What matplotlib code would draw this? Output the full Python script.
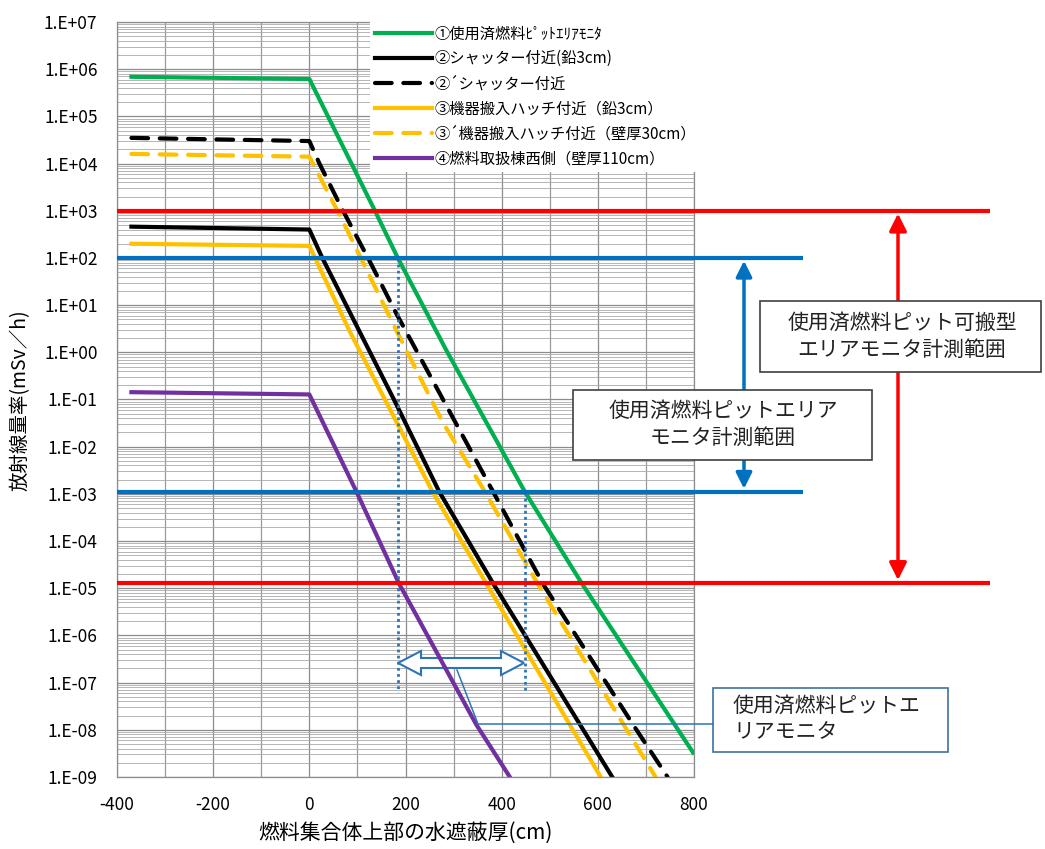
import numpy as np
import matplotlib
matplotlib.use('Agg')
import matplotlib.pyplot as plt
from matplotlib import transforms as mtransforms, patches as mpatches, ticker
from matplotlib.lines import Line2D

plt.rcParams['font.family'] = ['Noto Sans CJK JP', 'DejaVu Sans']
plt.rcParams['axes.unicode_minus'] = False

# ---------------- data ----------------
labels = ['①使用済燃料ﾋﾟｯﾄｴﾘｱﾓﾆﾀ', '②シャッター付近(鉛3cm)', '②´シャッター付近',
          '③機器搬入ハッチ付近（鉛3cm）', '③´機器搬入ハッチ付近（壁厚30cm）',
          '④燃料取扱棟西側（壁厚110cm）']

x1 = [-370, 0, 135, 184, 285, 448, 566, 798]
y1 = [6.9e5, 6.2e5, 1.07e3, 1.0e2, 1.1e0, 1.12e-3, 1.3e-5, 3.3e-9]

x2 = [-370, 0, 27, 177, 270, 383, 630]
y2 = [4.6e2, 4.0e2, 1.0e2, 9.5e-2, 1.12e-3, 1.23e-5, 1.0e-9]

x2d = [-370, 0, 21, 66, 128, 181, 382, 486, 673, 745]
y2d = [3.5e4, 3.0e4, 1.0e4, 1.2e3, 7.6e1, 6.6e0, 1.12e-3, 1.23e-5, 1.3e-8, 1.0e-9]

x3 = [-370, 0, 83, 256, 368, 606]
y3 = [2.0e2, 1.8e2, 2.9e0, 1.12e-3, 1.26e-5, 1.0e-9]

x3d = [-370, 0, 66, 181, 278, 365, 472, 720]
y3d = [1.6e4, 1.4e4, 7.1e2, 2.9e0, 3.2e-2, 1.12e-3, 1.4e-5, 1.0e-9]

x4 = [-370, 0, 97, 187, 347, 417]
y4 = [1.43e-1, 1.28e-1, 1.17e-3, 1.23e-5, 1.3e-8, 1.0e-9]

# measurement ranges
portable_range = [1.3e-5, 1.0e3]     # red
area_range = [1.12e-3, 1.0e2]        # blue
dotted_bottom = [6.3e-8, 6.9e-8]

xticks = [-400, -200, 0, 200, 400, 600, 800]

# ---------------- styles ----------------
GREEN = '#00B050'
YELLOW = '#FFC000'
PURPLE = '#7030A0'
RED = '#FF0000'
BLUE = '#0070C0'
LBLUE = '#2E75B6'
LW = 3.0
DASH = (4.0, 2.8)

W, H = 1045, 849
fig = plt.figure(figsize=(W / 100, H / 100), dpi=100)
L, R, T, B = 117, 694, 22, 777
ax = fig.add_axes([L / W, 1 - B / H, (R - L) / W, (B - T) / H])
PX = mtransforms.Affine2D().scale(1 / W, -1 / H).translate(0, 1) + fig.transFigure

ax.set_yscale('log')
ax.set_xlim(-400, 800)
ax.set_ylim(1e-9, 1e7)

ax.set_xticks(xticks)
ax.xaxis.set_minor_locator(ticker.MultipleLocator(100))
ax.yaxis.set_major_locator(ticker.FixedLocator([10.0 ** e for e in range(-9, 8)]))
ax.yaxis.set_minor_locator(ticker.FixedLocator(
    [m * 10.0 ** e for e in range(-9, 7) for m in range(2, 10)]))
ax.yaxis.set_major_formatter(ticker.FuncFormatter(
    lambda v, p: '1.E%+03d' % int(round(np.log10(v)))))
ax.yaxis.set_minor_formatter(ticker.NullFormatter())

ax.grid(which='major', axis='both', color='#8c8c8c', lw=0.9, zorder=0)
ax.grid(which='minor', axis='x', color='#9a9a9a', lw=0.9, zorder=0)
ax.grid(which='minor', axis='y', color='#aaaaaa', lw=0.6, zorder=0)
ax.set_axisbelow(True)
ax.tick_params(axis='both', which='both', length=0, pad=14, labelsize=12.5)
for s in ax.spines.values():
    s.set_color('#8c8c8c')
    s.set_linewidth(0.9)

h1, = ax.plot(x1, y1, color=GREEN, lw=LW, label=labels[0], zorder=2, solid_joinstyle='round')
h2, = ax.plot(x2, y2, color='black', lw=LW, label=labels[1], zorder=2, solid_joinstyle='round')
h2d, = ax.plot(x2d, y2d, color='black', lw=LW, ls=(0, DASH), label=labels[2], zorder=2,
               dash_capstyle='round')
h3, = ax.plot(x3, y3, color=YELLOW, lw=LW, label=labels[3], zorder=2, solid_joinstyle='round')
h3d, = ax.plot(x3d, y3d, color=YELLOW, lw=LW, ls=(0, DASH), label=labels[4], zorder=2,
               dash_capstyle='round')
h4, = ax.plot(x4, y4, color=PURPLE, lw=LW, label=labels[5], zorder=2, solid_joinstyle='round')

# horizontal range lines extending beyond the axes
red_end = (990 - L) / (R - L) * 1200 - 400
blue_end = (803 - L) / (R - L) * 1200 - 400
for v in portable_range:
    ax.plot([-400, red_end], [v, v], color=RED, lw=LW, clip_on=False, zorder=3,
            solid_capstyle='butt')
for v in area_range:
    ax.plot([-400, blue_end], [v, v], color=BLUE, lw=LW, clip_on=False, zorder=3,
            solid_capstyle='butt')

red_arrow_x = (898 - L) / (R - L) * 1200 - 400
blue_arrow_x = (744 - L) / (R - L) * 1200 - 400
ax.annotate('', xy=(red_arrow_x, portable_range[1]), xytext=(red_arrow_x, portable_range[0]),
            arrowprops=dict(arrowstyle='<|-|>', color=RED, lw=2.5, mutation_scale=26,
                            shrinkA=2, shrinkB=2), annotation_clip=False, zorder=3)
ax.annotate('', xy=(blue_arrow_x, area_range[1]), xytext=(blue_arrow_x, area_range[0]),
            arrowprops=dict(arrowstyle='<|-|>', color=BLUE, lw=2.5, mutation_scale=24,
                            shrinkA=2, shrinkB=2), annotation_clip=False, zorder=3)

# dotted vertical markers where curve ① crosses the area-monitor range
ly1 = np.log10(y1)
xa = np.interp(np.log10(area_range[1]), ly1[::-1], np.array(x1)[::-1])
xb = np.interp(np.log10(area_range[0]), ly1[::-1], np.array(x1)[::-1])
ax.plot([xa, xa], [area_range[1], dotted_bottom[0]], color=LBLUE, lw=2, ls=(0, (1, 1.2)),
        zorder=2.5)
ax.plot([xb, xb], [area_range[0], dotted_bottom[1]], color=LBLUE, lw=2, ls=(0, (1, 1.2)),
        zorder=2.5)

# hollow double arrow
cy = 663
arr = [(398, cy), (421, cy - 12), (421, cy - 5), (501, cy - 5), (501, cy - 12), (524, cy),
       (501, cy + 12), (501, cy + 5), (421, cy + 5), (421, cy + 12)]
ax.add_patch(mpatches.Polygon(arr, closed=True, transform=PX, facecolor='white',
                              edgecolor=LBLUE, lw=1.5, zorder=1.5, clip_on=False))

# leader line
fig.lines.append(Line2D([713, 478, 457], [724, 724, 670], transform=PX, color=LBLUE, lw=1.1))

# legend
leg = ax.legend(handles=[h1, h2, h2d, h3, h3d, h4], loc='upper left',
                bbox_to_anchor=(370 / W, 1 - 20 / H), bbox_transform=fig.transFigure,
                frameon=True, fancybox=False, edgecolor='none', facecolor='white',
                framealpha=1, fontsize=11, handlelength=3.7, handletextpad=0.15,
                labelspacing=0.52, borderpad=0.35, borderaxespad=0)
leg.set_zorder(5)

# text boxes
def tbox(x0, y0, w, h, text, tx, ty, ha, ec):
    fig.patches.append(mpatches.Rectangle((x0, y0), w, h, transform=PX, facecolor='white',
                                          edgecolor=ec, lw=1.2))
    fig.text(tx, ty, text, transform=PX, ha=ha, va='center', fontsize=15,
             linespacing=1.3, color='#222222', multialignment=ha)

tbox(760, 301, 281, 71, '使用済燃料ピット可搬型\nエリアモニタ計測範囲', 902, 336, 'center', '#404040')
tbox(573, 390, 299, 70, '使用済燃料ピットエリア\nモニタ計測範囲', 723, 424, 'center', '#404040')
tbox(713, 688, 235, 64, '使用済燃料ピットエ\nリアモニタ', 733, 719, 'left', '#41719C')

# axis labels
fig.text(405, 833, '燃料集合体上部の水遮蔽厚(cm)', transform=PX, ha='center', va='center',
         fontsize=15)
fig.text(20, 400, '放射線量率(mSv／h)', transform=PX, ha='center', va='center',
         fontsize=14, rotation=90)

fig.savefig('out.png', dpi=100)
